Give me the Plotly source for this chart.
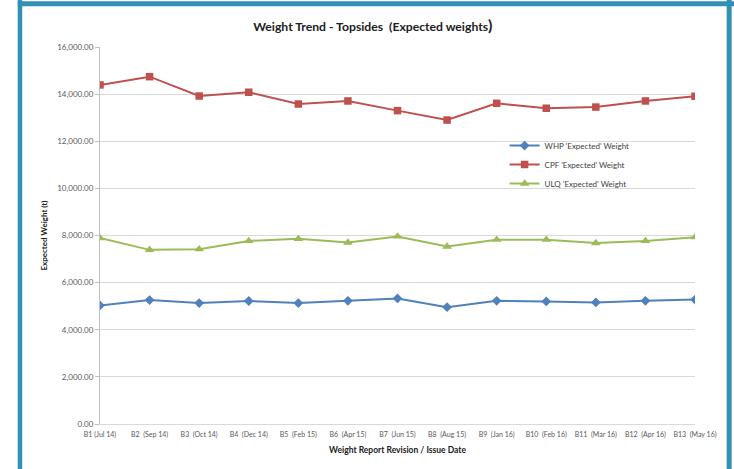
import plotly.graph_objects as go

# Report revisions (x categories)
revisions = ["B1 (Jul 14)", "B2  (Sep 14)", "B3  (Oct 14)", "B4  (Dec 14)", "B5  (Feb 15)",
             "B6  (Apr 15)", "B7  (Jun 15)", "B8  (Aug 15)", "B9  (Jan 16)", "B10  (Feb 16)",
             "B11  (Mar 16)", "B12  (Apr 16)", "B13  (May 16)"]

# Expected weights (t) per platform
whp_weight = [5030, 5260, 5130, 5220, 5130, 5230, 5330, 4960, 5230, 5200, 5160, 5230, 5280]
cpf_weight = [14390, 14740, 13920, 14080, 13580, 13710, 13300, 12900, 13610, 13400, 13450, 13710, 13910]
ulq_weight = [7890, 7390, 7420, 7770, 7860, 7700, 7960, 7530, 7820, 7820, 7680, 7770, 7930]

series_names = ["WHP 'Expected' Weight", "CPF 'Expected' Weight", "ULQ 'Expected' Weight"]
y_ticks = [0, 2000, 4000, 6000, 8000, 10000, 12000, 14000, 16000]

FONT = "Lato"
fig = go.Figure()

styles = [
    (whp_weight, "#4F81BD", "diamond", 7.5),
    (cpf_weight, "#C0504D", "square", 7.5),
    (ulq_weight, "#9BBB59", "triangle-up", 8.5),
]
for name, (vals, color, symbol, size) in zip(series_names, styles):
    fig.add_trace(go.Scatter(
        x=revisions, y=vals, name=name, mode="lines+markers",
        line=dict(color=color, width=2),
        marker=dict(symbol=symbol, size=size, color=color),
    ))

FRAME = "#3190B4"
fig.update_layout(
    width=734, height=469,
    margin=dict(l=100, r=39, t=47, b=45),
    paper_bgcolor="white", plot_bgcolor="white",
    font=dict(family=FONT, color="#404040"),
    title=dict(
        text="Weight Trend - Topsides  (Expected weights<span style='font-size:16px'>)</span>",
        x=0.508, xanchor="center", y=0.942, yanchor="middle",
        font=dict(family=FONT, size=12.2, color="#202020", weight="bold"),
    ),
    showlegend=True,
    legend=dict(
        x=0.68, y=0.777, xanchor="left", yanchor="top",
        bgcolor="rgba(0,0,0,0)", font=dict(size=8, color="#404040"),
        itemwidth=30, tracegroupgap=0,
    ),
    shapes=[
        # teal frame around the chart
        dict(type="line", xref="paper", yref="paper", x0=-0.1345, x1=-0.1345, y0=1.2, y1=-0.2,
             line=dict(color=FRAME, width=4.5)),
        dict(type="line", xref="paper", yref="paper", x0=-0.1382, x1=1.1, y0=1.1145, y1=1.1145,
             line=dict(color=FRAME, width=5)),
        dict(type="line", xref="paper", yref="paper", x0=1.0574, x1=1.0574, y0=1.2, y1=-0.2,
             line=dict(color=FRAME, width=5)),
    ],
)

fig.update_xaxes(
    type="category", range=[0, 12],
    showgrid=False, showline=True, linecolor="#D9D9D9", linewidth=1,
    ticks="", tickfont=dict(size=7, color="#595959"),
    ticklabelstandoff=4,
    title=dict(text="<b>Weight Report Revision / Issue Date</b>",
               font=dict(size=8.5, color="#202020"), standoff=8),
    tickangle=0,
)
fig.update_yaxes(
    range=[0, 16000], tickvals=y_ticks, tickformat=",.2f",
    showgrid=True, gridcolor="#D9D9D9", gridwidth=1,
    showline=True, linecolor="#BFBFBF", linewidth=1,
    ticks="outside", ticklen=4, tickcolor="#BFBFBF",
    tickfont=dict(size=8, color="#595959"),
    title=dict(text="<b>Expected Weight (t)</b>",
               font=dict(size=8, color="#202020"), standoff=8),
    zeroline=False,
)

fig.write_html("out.html")
